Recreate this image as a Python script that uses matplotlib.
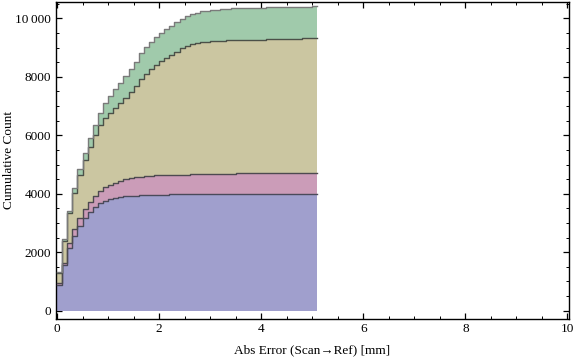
#!/usr/bin/python3
# -*- coding: utf-8 -*-

import numpy as np
import matplotlib
matplotlib.use('Agg')
import matplotlib.pyplot as plt
from matplotlib.ticker import MultipleLocator, FixedLocator

## histogram bins: width 0.1 mm from 0 to 5.1 mm
bin_width = 0.1
n_bins = 51

## cumulative counts per data set (stacked bottom -> top)
blue = [880, 1562, 2133, 2554, 2896, 3180, 3385, 3556, 3672, 3761,
        3819, 3863, 3897, 3915, 3928, 3940, 3948, 3955, 3960, 3966,
        3970, 3973, 3976, 3978, 3980, 3982, 3984, 3985, 3986, 3987,
        3988, 3989, 3990, 3991, 3992, 3993, 3994, 3994, 3995, 3995,
        3996, 3996, 3997, 3997, 3998, 3998, 3999, 3999, 4000, 4000, 4000]
pink = [57, 79, 171, 229, 263, 287, 342, 365, 420, 457,
        478, 513, 547, 577, 598, 620, 633, 650, 655, 664,
        669, 672, 673, 674, 675, 676, 677, 677, 678, 678,
        679, 679, 680, 700, 700, 701, 701, 701, 702, 702,
        702, 703, 703, 703, 704, 704, 704, 705, 705, 705, 705]
tan = [342, 739, 1026, 1231, 1481, 1685, 1859, 2086, 2257, 2360,
       2452, 2544, 2646, 2770, 2961, 3122, 3330, 3487, 3638, 3770,
       3908, 3984, 4093, 4203, 4315, 4382, 4449, 4503, 4531, 4540,
       4553, 4557, 4561, 4562, 4563, 4564, 4565, 4567, 4568, 4573,
       4577, 4581, 4585, 4600, 4601, 4603, 4604, 4605, 4606, 4607, 4608]
green = [54, 80, 95, 171, 194, 250, 330, 345, 420, 512,
         591, 649, 705, 760, 780, 831, 889, 913, 944, 955,
         965, 991, 1010, 1020, 1022, 1024, 1026, 1030, 1045, 1058,
         1065, 1072, 1078, 1082, 1085, 1087, 1088, 1089, 1090, 1090,
         1091, 1091, 1091, 1091, 1092, 1092, 1092, 1092, 1092, 1092, 1092]

layers = [blue, pink, tan, green]
fill_colors = ['#a09fcd', '#cb9cb8', '#cbc6a1', '#a0caab']
edge_colors = ['#4a4a5a', '#4d4a50', '#4b5048', '#7a7a7a']

x_ticks = [0, 2, 4, 6, 8, 10]
y_ticks = [0, 2000, 4000, 6000, 8000, 10000]
y_tick_labels = ['0', '2000', '4000', '6000', '8000', '10\u2009000']

plt.rcParams['font.family'] = ['Liberation Serif', 'DejaVu Serif']

fig = plt.figure(figsize=(5.76, 3.57), dpi=100)
ax = fig.add_axes([0.0964, 0.1056, 0.8906, 0.8884])

edges = np.arange(n_bins + 1) * bin_width
bottom = np.zeros(n_bins)
for vals, fc, ec in zip(layers, fill_colors, edge_colors):
    top = bottom + np.array(vals, dtype=float)
    lo = np.append(bottom, bottom[-1])
    hi = np.append(top, top[-1])
    ax.fill_between(edges, lo, hi, step='post', facecolor=fc,
                    edgecolor='none', zorder=2)
    ax.step(edges, hi, where='post', color=ec, lw=1.0, zorder=3)
    bottom = top

## frame
ax.set_xlim(-0.03, 10.02)
ax.set_ylim(-294, 10554)
for s in ax.spines.values():
    s.set_linewidth(1.0)
    s.set_color('black')

ax.xaxis.set_major_locator(FixedLocator(x_ticks))
ax.xaxis.set_minor_locator(MultipleLocator(0.5))
ax.yaxis.set_major_locator(FixedLocator(y_ticks))
ax.yaxis.set_minor_locator(MultipleLocator(500))
ax.set_yticklabels(y_tick_labels)
ax.tick_params(which='both', direction='in', top=True, right=True,
               labelsize=9.5, colors='black', pad=3)
ax.tick_params(which='major', length=4.5, width=0.9)
ax.tick_params(which='minor', length=2.5, width=0.7)

ax.set_xlabel('Abs Error (Scan\u2192Ref) [mm]', fontsize=9.5, labelpad=6)
## y label sits close to the left edge, as in the original
fig.text(9 / 576, 1 - 160 / 357, 'Cumulative Count', fontsize=9.5,
         rotation=90, ha='center', va='center')

fig.savefig('out.png', dpi=100)
